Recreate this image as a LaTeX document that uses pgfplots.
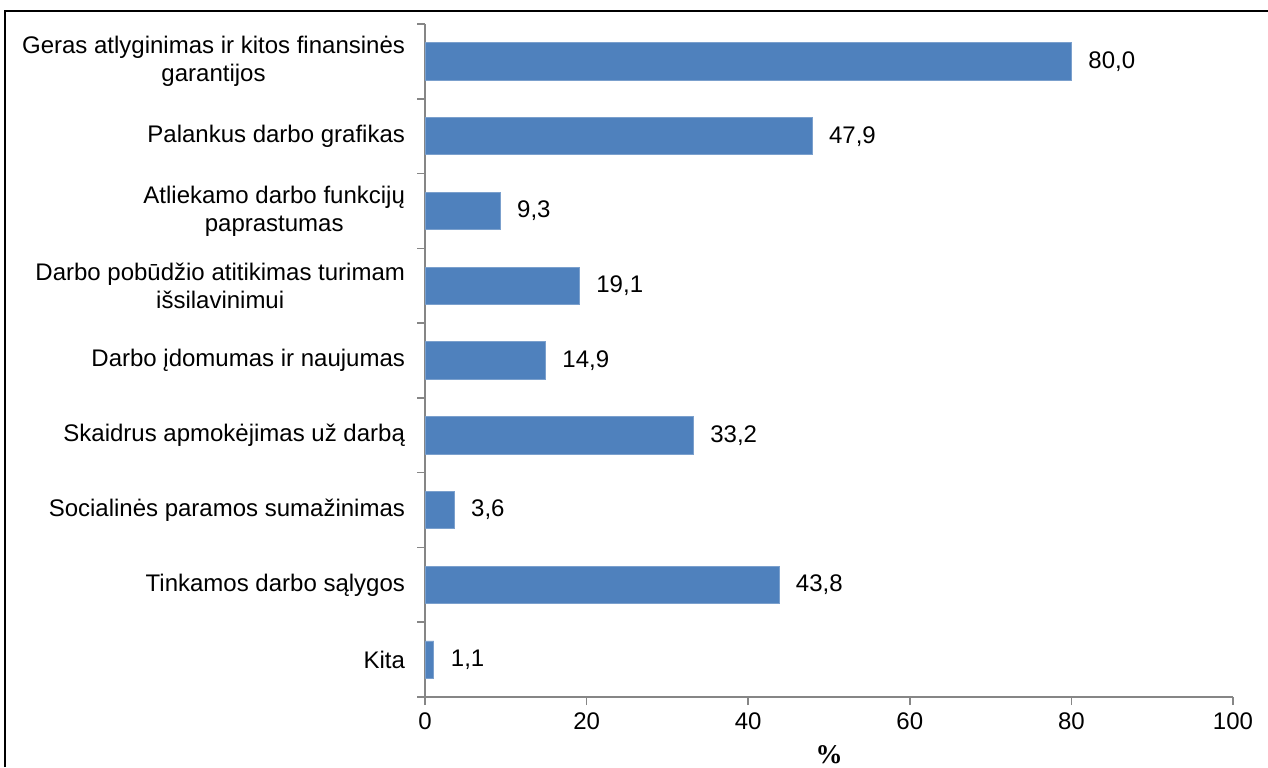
\documentclass[border=0pt]{standalone}
\usepackage{fontspec}
\setmainfont{Liberation Sans}
\newfontfamily\serifbold{Liberation Serif}
\usepackage{pgfplots}
\pgfplotsset{compat=1.18}
\definecolor{barblue}{HTML}{4F81BD}
\definecolor{axisgray}{HTML}{868686}
\begin{document}
\begin{tikzpicture}
\begin{axis}[
  at={(212.5pt,-348.5pt)}, anchor=south west,
  scale only axis,
  width=404pt, height=336.5pt,
  xbar, bar width=0.5,
  xmin=0, xmax=100,
  ymin=-0.5, ymax=8.5,
  y dir=reverse,
  xtick={0,20,...,100},
  ytick={0,...,8},
  minor ytick={-0.5,0.5,...,8.5},
  yticklabels={
    {Geras atlyginimas ir kitos finansinės\\garantijos},
    {Palankus darbo grafikas},
    {Atliekamo darbo funkcijų\\paprastumas},
    {Darbo pobūdžio atitikimas turimam\\išsilavinimui},
    {Darbo įdomumas ir naujumas},
    {Skaidrus apmokėjimas už darbą},
    {Socialinės paramos sumažinimas},
    {Tinkamos darbo sąlygos},
    {Kita}},
  axis x line*=bottom, axis y line*=left,
  axis line style={draw=axisgray, line width=0.75pt, -},
  tick align=outside,
  major tick length=4pt, minor tick length=4pt,
  xtick style={draw=axisgray, line width=0.75pt},
  ytick style={draw=none},
  minor y tick style={draw=axisgray, line width=0.75pt},
  tick label style={font=\fontsize{12}{14}\selectfont, text=black},
  yticklabel style={align=center, xshift=-2.5pt},
  xticklabel style={yshift=-0.5pt},
  /pgf/number format/assume math mode=true,
  xlabel={\serifbold\bfseries\%},
  xlabel style={at={(axis description cs:0.5,0)}, anchor=north, yshift=-24pt,
                font=\fontsize{13.5}{15}\selectfont, inner sep=0pt},
  nodes near coords={\pgfmathprintnumber[fixed,fixed zerofill,precision=1,use comma]{\pgfplotspointmeta}},
  nodes near coords align=horizontal,
  every node near coord/.append style={font=\fontsize{12}{14}\selectfont, text=black, xshift=5pt},
  clip=false,
]
\addplot[fill=barblue, draw=barblue!75!white, line width=0.4pt] coordinates {
  (80.0,0) (47.9,1) (9.3,2) (19.1,3) (14.9,4) (33.2,5) (3.6,6) (43.8,7) (1.1,8)
};
\end{axis}
% frame around the figure
\draw[black, line width=0.9pt] (2.5pt,-383.5pt) -- (2.5pt,-5.5pt) -- (634pt,-5.5pt);
\pgfresetboundingbox
\useasboundingbox (0pt,0pt) rectangle (634pt,-383.5pt);
\end{tikzpicture}
\end{document}
